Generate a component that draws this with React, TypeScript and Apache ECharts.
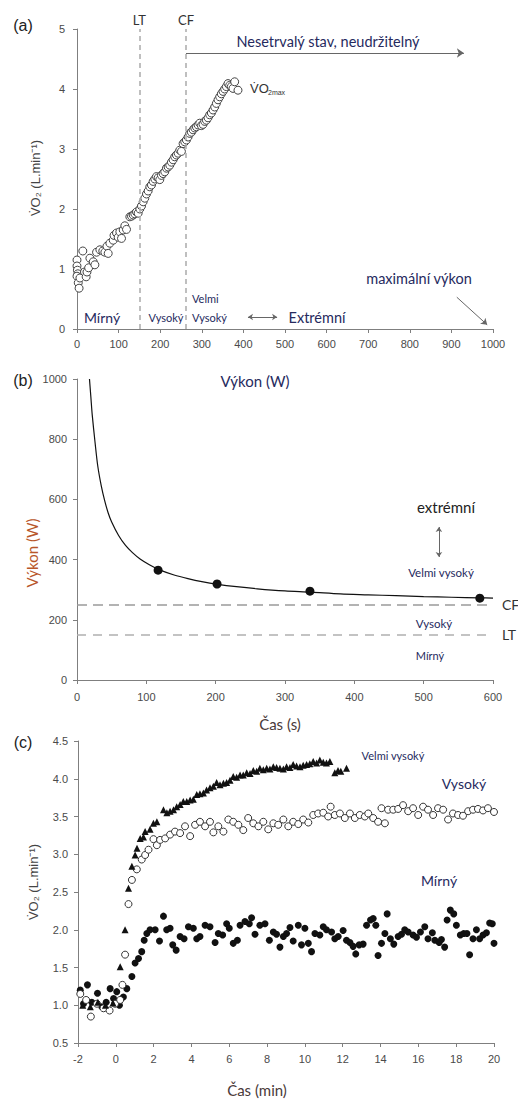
import React, { useEffect, useRef } from "react";
import * as echarts from "echarts";

// ---------- Panel (a): VO2 during ramp test ----------
const rampTicksX = [0, 100, 200, 300, 400, 500, 600, 700, 800, 900, 1000];
const rampPoints: [number, number][] = [
  [0, 1.15], [0, 1.05], [1, 0.98], [2, 0.92], [0, 0.88], [3, 0.77], [5, 0.68], [7, 0.85],
  [14, 1.3], [18, 0.95], [22, 0.87], [24, 0.95], [28, 1.02], [31, 1.18], [39, 1.12], [43, 1.07],
  [47, 1.28], [55, 1.32], [62, 1.3], [67, 1.28], [72, 1.38], [75, 1.26], [79, 1.43], [87, 1.48],
  [89, 1.56], [95, 1.6], [99, 1.53], [103, 1.62], [107, 1.51], [111, 1.65], [115, 1.72], [119, 1.66],
  [127, 1.87], [131, 1.88], [135, 1.9], [139, 1.92], [143, 1.95], [147, 1.93], [151, 2.0], [155, 2.05],
  [159, 2.12], [163, 2.18], [167, 2.25], [171, 2.3], [175, 2.37], [179, 2.4], [183, 2.46], [187, 2.5],
  [191, 2.54], [195, 2.52], [199, 2.49], [203, 2.56], [207, 2.59], [211, 2.62], [215, 2.68], [219, 2.7],
  [223, 2.73], [227, 2.78], [231, 2.82], [235, 2.87], [239, 2.9], [243, 2.93], [247, 2.98], [251, 2.96],
  [255, 3.09], [259, 3.12], [263, 3.15], [267, 3.2], [271, 3.26], [275, 3.28], [279, 3.32], [283, 3.35],
  [287, 3.37], [291, 3.4], [295, 3.43], [299, 3.39], [303, 3.41], [307, 3.46], [311, 3.48], [315, 3.52],
  [319, 3.57], [323, 3.6], [327, 3.65], [331, 3.7], [335, 3.76], [339, 3.82], [343, 3.87], [347, 3.92],
  [351, 3.96], [355, 4.0], [359, 4.04], [363, 4.09], [367, 4.06], [371, 4.04], [375, 4.01], [379, 4.12],
  [387, 3.98],
];
const ltSeconds = 150;
const cfSeconds = 262;

// ---------- Panel (b): power-duration curve ----------
const powerCurve: [number, number][] = [
  [18, 1000], [20, 940], [22, 880], [26, 790], [30, 710], [35, 645], [40, 595], [45, 555], [50, 525],
  [60, 480], [70, 447], [80, 423], [91, 402], [105, 382], [120, 365], [140, 349], [160, 337],
  [180, 327], [203, 318], [230, 310], [260, 303], [300, 296], [337, 292], [380, 286], [420, 283],
  [460, 280], [500, 277], [540, 275], [581, 273], [600, 272],
];
const powerTrials: [number, number][] = [[117, 365], [202, 319], [336, 295], [581, 272]];
const cfWatts = 250;
const ltWatts = 150;

// ---------- Panel (c): VO2 kinetics ----------
const veryHighPoints: [number, number][] = [
  [-1.75, 1.0], [-1.35, 0.98], [-0.95, 1.04], [-0.55, 1.0], [-0.15, 1.03],
  [0.23, 1.51], [0.49, 2.0], [0.67, 2.55], [0.85, 2.84], [1.02, 2.99], [1.12, 3.08], [1.29, 3.21],
  [1.46, 3.23], [1.55, 3.3], [1.81, 3.33], [1.99, 3.41], [2.17, 3.43], [2.52, 3.59], [2.7, 3.55],
  [2.87, 3.57], [3.05, 3.59], [3.22, 3.63], [3.4, 3.66], [3.57, 3.7], [3.75, 3.7], [3.93, 3.72],
  [4.1, 3.73], [4.28, 3.79], [4.45, 3.8], [4.63, 3.81], [4.8, 3.85], [4.98, 3.88], [5.16, 3.9],
  [5.33, 3.95], [5.51, 3.92], [5.69, 3.94], [5.86, 3.95], [6.04, 3.98], [6.21, 4.03], [6.39, 4.02],
  [6.57, 4.05], [6.74, 4.05], [6.92, 4.08], [7.1, 4.07], [7.27, 4.11], [7.45, 4.1], [7.62, 4.14],
  [7.8, 4.12], [7.98, 4.14], [8.15, 4.13], [8.33, 4.16], [8.5, 4.15], [8.68, 4.14], [8.86, 4.13],
  [9.03, 4.16], [9.21, 4.15], [9.38, 4.19], [9.56, 4.17], [9.74, 4.16], [9.91, 4.18], [10.09, 4.19],
  [10.26, 4.2], [10.44, 4.23], [10.62, 4.21], [10.79, 4.25], [10.97, 4.22], [11.14, 4.21],
  [11.32, 4.23], [11.58, 4.08], [11.75, 4.11], [11.9, 4.1], [12.2, 4.14],
];
const highPoints: [number, number][] = [
  [-1.88, 1.15], [-1.57, 1.07], [-1.32, 0.85], [-1.0, 1.02], [-0.65, 0.96], [-0.33, 0.93],
  [-0.04, 1.02], [0.23, 1.07], [0.35, 1.27], [0.49, 1.67], [0.67, 2.34], [0.85, 2.66], [1.11, 2.8],
  [1.37, 2.93], [1.55, 2.99], [1.73, 3.06], [1.99, 3.2], [2.17, 3.12], [2.34, 3.19], [2.61, 3.21],
  [2.87, 3.26], [3.13, 3.3], [3.4, 3.28], [3.66, 3.37], [3.93, 3.24], [4.19, 3.39], [4.45, 3.43],
  [4.72, 3.37], [4.98, 3.43], [5.16, 3.29], [5.42, 3.37], [5.69, 3.3], [5.95, 3.46], [6.21, 3.43],
  [6.48, 3.39], [6.74, 3.32], [7.0, 3.48], [7.27, 3.41], [7.54, 3.37], [7.8, 3.43], [8.06, 3.33],
  [8.33, 3.41], [8.59, 3.39], [8.86, 3.46], [9.12, 3.37], [9.38, 3.43], [9.65, 3.4], [9.91, 3.46],
  [10.18, 3.42], [10.44, 3.52], [10.7, 3.54], [10.97, 3.55], [11.23, 3.5], [11.36, 3.63],
  [11.58, 3.52], [11.85, 3.54], [12.11, 3.48], [12.38, 3.54], [12.64, 3.48], [12.9, 3.52],
  [13.17, 3.5], [13.35, 3.54], [13.61, 3.48], [13.87, 3.43], [14.23, 3.41], [14.05, 3.61],
  [14.4, 3.59], [14.67, 3.59], [14.93, 3.6], [15.19, 3.65], [15.46, 3.57], [15.72, 3.61],
  [15.99, 3.52], [16.25, 3.63], [16.51, 3.59], [16.78, 3.52], [17.04, 3.61], [17.31, 3.59],
  [17.57, 3.46], [17.83, 3.54], [18.1, 3.52], [18.36, 3.51], [18.63, 3.57], [18.89, 3.59],
  [19.15, 3.6], [19.42, 3.58], [19.68, 3.61], [20.0, 3.56],
];
const moderatePoints: [number, number][] = [
  [-1.88, 1.2], [-1.71, 1.02], [-1.5, 1.27], [-1.27, 1.04], [-0.97, 1.16], [-0.74, 0.98],
  [-0.51, 1.04], [-0.3, 1.22], [-0.12, 1.09], [0.05, 1.18], [0.19, 1.0], [0.4, 1.11], [0.58, 1.22],
  [0.85, 1.38], [1.02, 1.56], [1.2, 1.62], [1.37, 1.71], [1.5, 1.86], [1.64, 1.95], [1.81, 2.0],
  [2.08, 2.0], [2.31, 1.85], [2.52, 2.18], [2.69, 2.0], [2.87, 2.02], [3.01, 1.8], [3.19, 1.73],
  [3.4, 1.91], [3.61, 1.88], [3.84, 2.04], [4.1, 2.02], [4.28, 1.88], [4.45, 1.91], [4.72, 2.06],
  [4.98, 2.04], [5.25, 1.83], [5.42, 1.95], [5.65, 1.93], [5.86, 2.08], [6.0, 2.02], [6.21, 1.82],
  [6.43, 1.86], [6.57, 2.06], [6.83, 2.11], [7.06, 2.08], [7.18, 2.16], [7.36, 1.94], [7.62, 2.06],
  [7.89, 2.08], [8.12, 1.86], [8.33, 1.97], [8.5, 1.94], [8.68, 1.77], [8.86, 1.91], [9.03, 1.95],
  [9.21, 2.03], [9.38, 1.85], [9.65, 2.06], [9.82, 1.8], [10.0, 2.02], [10.18, 1.82], [10.35, 1.71],
  [10.53, 1.95], [10.79, 1.93], [10.97, 2.04], [11.14, 2.0], [11.41, 1.97], [11.58, 1.88],
  [11.76, 1.91], [12.02, 1.99], [12.2, 1.86], [12.38, 1.83], [12.55, 1.78], [12.69, 1.68],
  [12.87, 1.8], [13.08, 1.81], [13.26, 2.06], [13.47, 2.13], [13.61, 2.15], [13.75, 2.06],
  [13.87, 1.66], [14.05, 1.82], [14.23, 1.95], [14.35, 2.21], [14.52, 1.88], [14.7, 1.81],
  [14.93, 1.91], [15.11, 1.94], [15.28, 2.0], [15.46, 1.97], [15.72, 1.93], [15.9, 1.9],
  [16.11, 1.97], [16.34, 2.04], [16.51, 1.88], [16.74, 1.96], [16.87, 1.86], [17.1, 1.83],
  [17.22, 1.87], [17.39, 1.77], [17.52, 2.13], [17.69, 2.26], [17.87, 2.21], [18.01, 2.06],
  [18.22, 1.93], [18.4, 1.95], [18.57, 1.95], [18.71, 1.67], [18.89, 1.88], [19.07, 2.0],
  [19.24, 1.88], [19.42, 1.93], [19.6, 1.96], [19.77, 2.09], [19.91, 2.08], [20.0, 1.82],
];

const NAVY = "#262a5e";
const TICK_FONT = "Liberation Sans";
const NOTE_FONT = "Lato";

function labelStyle(margin: number, formatter?: any) {
  return {
    color: "#4a4a4a",
    fontSize: 11,
    fontFamily: TICK_FONT,
    margin,
    formatter: formatter || ((v: number) => String(v)),
  };
}

function axis(gridIndex: number, extra: any) {
  return {
    type: "value",
    gridIndex,
    axisLine: { show: true, onZero: false, lineStyle: { color: "#7f7f7f", width: 1 } },
    axisTick: { show: true, length: 4, lineStyle: { color: "#7f7f7f" } },
    axisLabel: labelStyle(10),
    splitLine: { show: false },
    ...extra,
  };
}

function txt(text: string, x: number, y: number, size: number, opts: any = {}) {
  const align = opts.align || "center";
  return {
    type: "text",
    x,
    y,
    rotation: opts.rotation || 0,
    silent: true,
    style: {
      text,
      fill: opts.color || NAVY,
      fontSize: size,
      fontFamily: opts.font || NOTE_FONT,
      fontWeight: opts.weight || "normal",
      align,
      textAlign: align,
      verticalAlign: "middle",
      textVerticalAlign: "middle",
    },
  };
}

function arrow(xi: number, coords: [number, number][], symbols: string[], size: number) {
  return {
    type: "lines",
    coordinateSystem: "cartesian2d",
    xAxisIndex: xi,
    yAxisIndex: xi,
    symbol: symbols,
    symbolSize: size,
    silent: true,
    lineStyle: { color: "#666", width: 1, opacity: 1 },
    data: [{ coords }],
  };
}

export default function App() {
  const ref = useRef<HTMLDivElement>(null);
  useEffect(() => {
    document.body.style.margin = "0";
    if (!ref.current) return;
    const chart = echarts.init(ref.current, null, { renderer: "svg" });
    const option: any = {
      animation: false,
      backgroundColor: "#fff",
      grid: [
        { left: 77, top: 29, width: 416, height: 300 },
        { left: 77, top: 379, width: 416, height: 301 },
        { left: 78, top: 741, width: 416, height: 302 },
      ],
      xAxis: [
        axis(0, { min: rampTicksX[0], max: rampTicksX[rampTicksX.length - 1], interval: 100, axisLabel: labelStyle(9) }),
        axis(1, { min: 0, max: 600, interval: 100, axisLabel: labelStyle(11) }),
        axis(2, { min: -2, max: 20, interval: 2, axisLabel: labelStyle(10) }),
      ],
      yAxis: [
        axis(0, { min: 0, max: 5, interval: 1, axisLabel: labelStyle(12) }),
        axis(1, { min: 0, max: 1000, interval: 200, axisLabel: labelStyle(10) }),
        axis(2, {
          min: 0.5, max: 4.5, interval: 0.5,
          axisLabel: labelStyle(10, (v: number) => v.toFixed(1)),
        }),
      ],
      series: [
        // (a)
        {
          type: "scatter",
          xAxisIndex: 0,
          yAxisIndex: 0,
          data: rampPoints,
          symbol: "circle",
          symbolSize: 8,
          itemStyle: { color: "#fff", borderColor: "#444", borderWidth: 1, opacity: 1 },
          z: 3,
          markLine: {
            silent: true,
            symbol: ["none", "none"],
            lineStyle: { type: [5, 4], color: "#b0b0b0", width: 1.6 },
            label: { show: true, position: "end", formatter: "{b}", color: "#333", fontSize: 13, fontFamily: NOTE_FONT, distance: 3 },
            data: [
              { name: "LT", xAxis: ltSeconds },
              { name: "CF", xAxis: cfSeconds },
            ],
          },
        },
        arrow(0, [[cfSeconds, 4.6], [930, 4.6]], ["none", "arrow"], 7),
        arrow(0, [[411, 0.2], [481, 0.2]], ["arrow", "arrow"], 5),
        arrow(0, [[913, 0.53], [986, 0.07]], ["none", "arrow"], 6),
        // (b)
        {
          type: "line",
          xAxisIndex: 1,
          yAxisIndex: 1,
          data: powerCurve,
          smooth: 0.3,
          showSymbol: false,
          symbol: "none",
          lineStyle: { color: "#111", width: 1.2 },
          markLine: {
            silent: true,
            symbol: ["none", "none"],
            label: { show: true, position: "end", formatter: "{b}", color: "#333", fontSize: 14, fontFamily: NOTE_FONT, distance: 9 },
            data: [
              { name: "CF", yAxis: cfWatts, lineStyle: { type: [10, 6], color: "#9a9a9a", width: 1.6 } },
              { name: "LT", yAxis: ltWatts, lineStyle: { type: [9, 7], color: "#b0b0b0", width: 1.6 } },
            ],
          },
        },
        {
          type: "scatter",
          xAxisIndex: 1,
          yAxisIndex: 1,
          data: powerTrials,
          symbolSize: 9,
          itemStyle: { color: "#111", opacity: 1 },
          z: 4,
        },
        arrow(1, [[522, 508], [522, 409]], ["arrow", "arrow"], 5),
        // (c)
        {
          type: "scatter",
          xAxisIndex: 2,
          yAxisIndex: 2,
          data: moderatePoints,
          symbolSize: 7,
          itemStyle: { color: "#111", opacity: 1 },
        },
        {
          type: "scatter",
          xAxisIndex: 2,
          yAxisIndex: 2,
          data: highPoints,
          symbolSize: 7,
          itemStyle: { color: "#fff", borderColor: "#333", borderWidth: 1, opacity: 1 },
        },
        {
          type: "scatter",
          xAxisIndex: 2,
          yAxisIndex: 2,
          data: veryHighPoints,
          symbol: "triangle",
          symbolSize: 7,
          itemStyle: { color: "#111", opacity: 1 },
        },
      ],
      graphic: [
        // (a)
        txt("(a)", 23, 25, 16, { color: "#222", font: TICK_FONT }),
        txt("Nesetrvalý stav, neudržitelný", 328, 41, 14.5),
        txt("V̇O", 250, 88, 13, { color: "#333", font: TICK_FONT, align: "left" }),
        txt("2max", 268, 92, 7, { color: "#333", font: TICK_FONT, align: "left" }),
        txt("V̇O₂ (L.min⁻¹)", 35, 178, 13, { color: "#444", font: TICK_FONT, rotation: Math.PI / 2 }),
        txt("Mírný", 102, 317, 14),
        txt("Vysoký", 166, 317, 11),
        txt("Velmi", 192, 298, 11, { align: "left" }),
        txt("Vysoký", 192, 317, 11, { align: "left" }),
        txt("Extrémní", 317, 317, 14.5),
        txt("maximální výkon", 419, 278, 14.5),
        // (b)
        txt("(b)", 23, 380, 16, { color: "#222", font: TICK_FONT }),
        txt("Výkon (W)", 255, 381, 15),
        txt("Výkon (W)", 32, 553, 15, { color: "#b8562a", font: NOTE_FONT, rotation: Math.PI / 2 }),
        txt("extrémní", 446, 507, 15, { color: "#222" }),
        txt("Velmi vysoký", 441, 572, 11.5),
        txt("Vysoký", 434, 623, 11.5),
        txt("Mírný", 430, 655, 11),
        txt("Čas (s)", 280, 724, 15, { color: "#4a3a3a" }),
        // (c)
        txt("(c)", 23, 742, 16, { color: "#222", font: TICK_FONT }),
        txt("Velmi vysoký", 393, 755, 11),
        txt("Vysoký", 464, 783, 14),
        txt("Mírný", 439, 880, 14),
        txt("V̇O₂ (L.min⁻¹)", 33, 882, 13, { color: "#444", font: TICK_FONT, rotation: Math.PI / 2 }),
        txt("Čas (min)", 257, 1090, 15, { color: "#4a3a3a" }),
      ],
    };
    chart.setOption(option);
    return () => chart.dispose();
  }, []);
  return <div ref={ref} style={{ width: 518, height: 1100 }} />;
}
